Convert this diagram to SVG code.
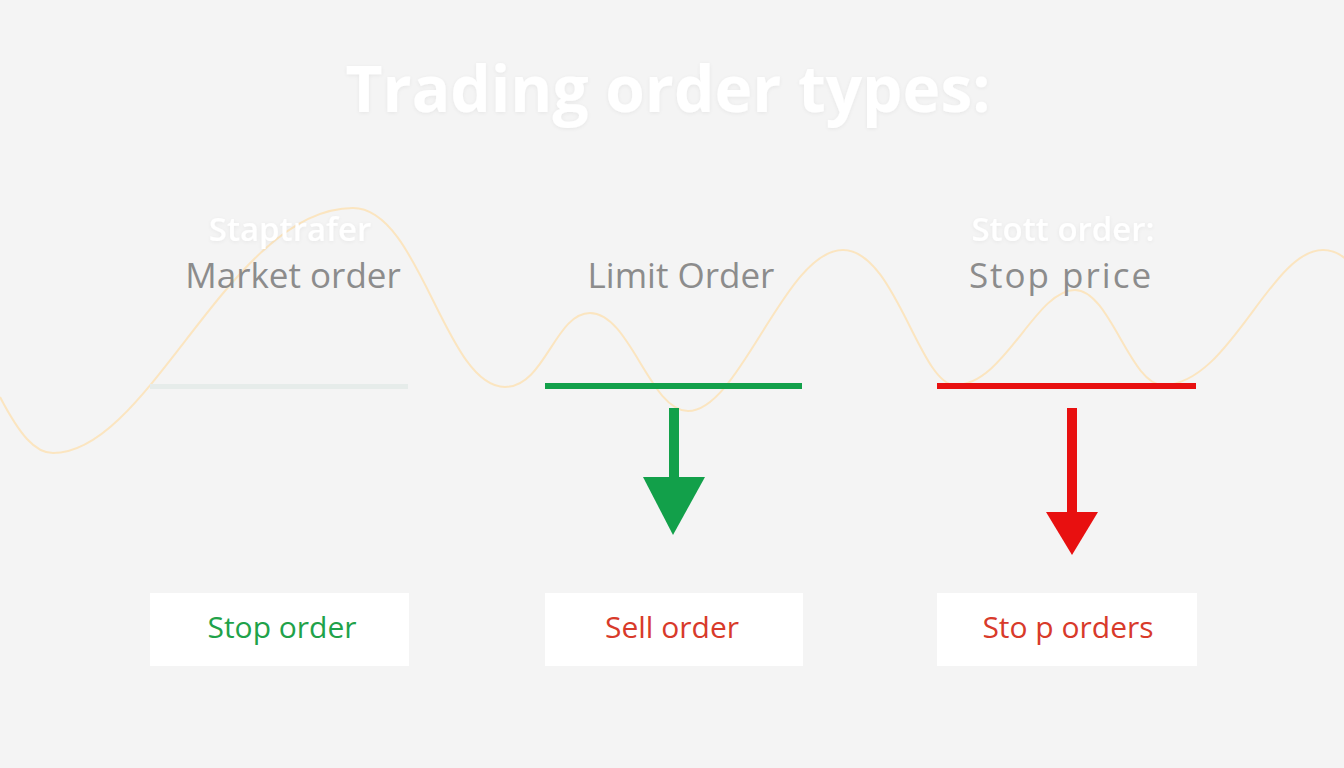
<svg xmlns="http://www.w3.org/2000/svg" width="1344" height="768" viewBox="0 0 1344 768">
<defs>
<style>
.title{font-family:"Open Sans","Liberation Sans",sans-serif;font-weight:700;font-size:64px;fill:#ffffff}
.ghost{font-family:"Open Sans","Liberation Sans",sans-serif;font-weight:600;font-size:33px;fill:#ffffff}
.head{font-family:"Open Sans","Liberation Sans",sans-serif;font-size:35px;fill:#8c8c8c}
.lbl{font-family:"Open Sans","Liberation Sans",sans-serif;font-size:30px}
.box{fill:#ffffff}
</style>
<filter id="sh" x="-10%" y="-30%" width="120%" height="160%">
<feGaussianBlur in="SourceAlpha" stdDeviation="2"/>
<feOffset dx="0" dy="1"/>
<feComponentTransfer><feFuncA type="linear" slope="0.06"/></feComponentTransfer>
<feMerge><feMergeNode/><feMergeNode in="SourceGraphic"/></feMerge>
</filter>
</defs>
<rect width="1344" height="768" fill="#f4f4f4"/>
<path d="M0,397 C20,435 35,453 53,453 C150,453 230,208 353,208 C420,208 445,387 505,387 C545,387 555,313 590,313 C630,313 650,411 688,411 C740,411 785,250 843,250 C895,250 920,385 955,385 C1005,385 1035,290 1075,290 C1110,290 1130,385 1163,385 C1230,385 1270,250 1323,250 C1340,250 1350,262 1360,275" fill="none" stroke="#fbe5c0" stroke-width="2"/>
<g id="title" filter="url(#sh)">
<text class="title" x="668" y="112" text-anchor="middle">Trading order types:</text>
</g>
<g id="market">
<text class="ghost" x="290" y="241" text-anchor="middle" filter="url(#sh)">Staptrafer</text>
<text class="head" x="293" y="288" text-anchor="middle">Market order</text>
<rect x="150" y="384" width="258" height="5" fill="#e6ecea"/>
</g>
<g id="limit">
<text class="head" x="681" y="288" text-anchor="middle">Limit Order</text>
<rect x="545" y="383" width="257" height="6" fill="#12a04a"/>
</g>
<g id="stop">
<text class="ghost" x="1063" y="241" text-anchor="middle" filter="url(#sh)">Stott order:</text>
<text class="head" x="1061" y="288" text-anchor="middle" letter-spacing="2">Stop  price</text>
<rect x="937" y="383" width="259" height="6" fill="#e81010"/>
</g>
<g id="connectors">
<rect x="669" y="408" width="10" height="72" fill="#12a04a"/>
<polygon points="643,477 705,477 673,535" fill="#12a04a"/>
<rect x="1067" y="408" width="10" height="106" fill="#e81010"/>
<polygon points="1046,512 1098,512 1072,555" fill="#e81010"/>
</g>
<g id="box1">
<rect class="box" x="150" y="593" width="259" height="73"/>
<text class="lbl" x="282" y="638" text-anchor="middle" fill="#1fa24a">Stop order</text>
</g>
<g id="box2">
<rect class="box" x="545" y="593" width="258" height="73"/>
<text class="lbl" x="672" y="638" text-anchor="middle" fill="#d83a2a">Sell order</text>
</g>
<g id="box3">
<rect class="box" x="937" y="593" width="260" height="73"/>
<text class="lbl" x="1068" y="638" text-anchor="middle" fill="#d83a2a">Sto p orders</text>
</g>
</svg>
